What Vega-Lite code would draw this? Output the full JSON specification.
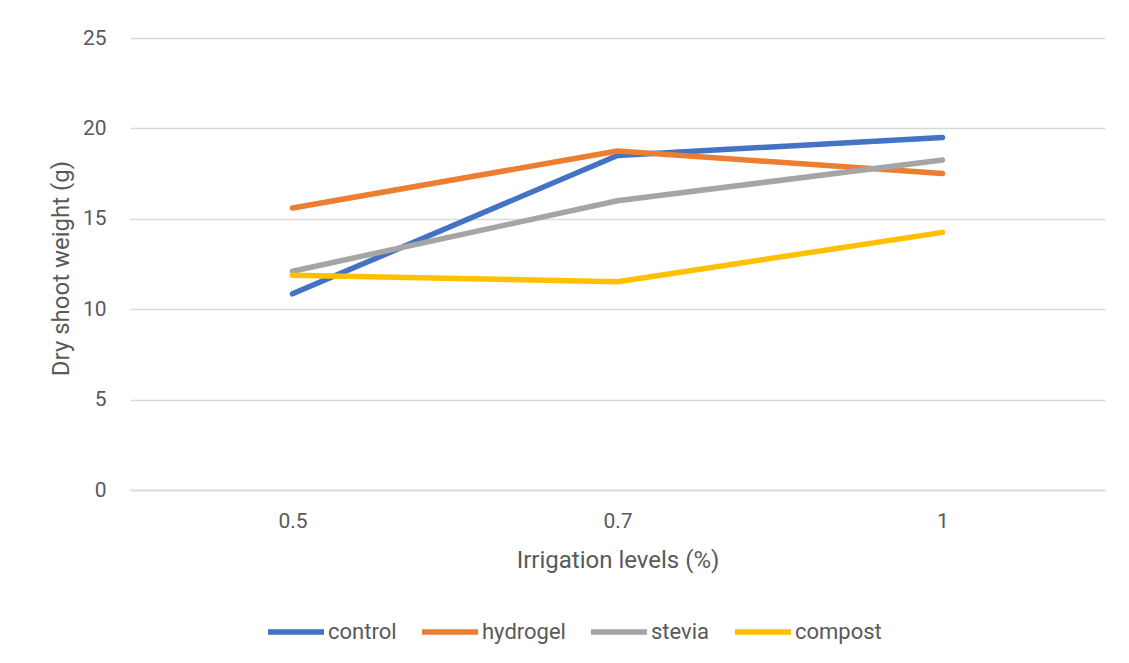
{
  "$schema": "https://vega.github.io/schema/vega-lite/v6.json",
  "width": 975,
  "height": 452,
  "autosize": {"type": "none"},
  "padding": {"left": 130, "top": 38, "right": 24, "bottom": 173},
  "background": "white",
  "config": {
    "view": {"stroke": null},
    "font": "Roboto",
    "axis": {"labelColor": "#595959", "titleColor": "#595959", "labelFont": "Roboto", "titleFont": "Roboto", "titleFontWeight": "normal"},
    "legend": {"labelColor": "#595959", "labelFont": "Roboto"}
  },
  "data": {
    "values": [
      {"series": "control", "level": "0.5", "weight": 10.85},
      {"series": "control", "level": "0.7", "weight": 18.5},
      {"series": "control", "level": "1", "weight": 19.5},
      {"series": "hydrogel", "level": "0.5", "weight": 15.6},
      {"series": "hydrogel", "level": "0.7", "weight": 18.75},
      {"series": "hydrogel", "level": "1", "weight": 17.5},
      {"series": "stevia", "level": "0.5", "weight": 12.1},
      {"series": "stevia", "level": "0.7", "weight": 16.0},
      {"series": "stevia", "level": "1", "weight": 18.25},
      {"series": "compost", "level": "0.5", "weight": 11.88},
      {"series": "compost", "level": "0.7", "weight": 11.52},
      {"series": "compost", "level": "1", "weight": 14.25}
    ]
  },
  "mark": {"type": "line", "strokeWidth": 5.5, "strokeCap": "round", "strokeJoin": "round"},
  "encoding": {
    "x": {
      "field": "level",
      "type": "ordinal",
      "sort": ["0.5", "0.7", "1"],
      "scale": {"type": "point", "padding": 0.5},
      "axis": {
        "title": "Irrigation levels (%)",
        "labelAngle": 0,
        "labelFontSize": 21,
        "labelPadding": 20,
        "ticks": false,
        "domain": true,
        "domainColor": "#d9d9d9",
        "domainWidth": 1.5,
        "grid": false,
        "titleFontSize": 24,
        "titleY": 70,
        "titleBaseline": "middle"
      }
    },
    "y": {
      "field": "weight",
      "type": "quantitative",
      "scale": {"domain": [0, 25], "nice": false},
      "axis": {
        "title": "Dry shoot weight (g)",
        "values": [0, 5, 10, 15, 20, 25],
        "labelFontSize": 21,
        "labelPadding": 24,
        "ticks": false,
        "domain": false,
        "grid": true,
        "gridColor": "#d9d9d9",
        "gridWidth": 1.5,
        "titleFontSize": 24,
        "titleX": -69,
        "titleY": 230,
        "titleBaseline": "middle"
      }
    },
    "color": {
      "field": "series",
      "type": "nominal",
      "scale": {
        "domain": ["control", "hydrogel", "stevia", "compost"],
        "range": ["#4472C4", "#ED7D31", "#A5A5A5", "#FFC000"]
      },
      "legend": {
        "title": null,
        "orient": "none",
        "direction": "horizontal",
        "legendX": 135,
        "legendY": 563,
        "symbolType": "stroke",
        "symbolSize": 3136,
        "symbolStrokeWidth": 5.5,
        "labelFontSize": 22,
        "labelOffset": 1,
        "columnPadding": 14
      }
    }
  }
}
